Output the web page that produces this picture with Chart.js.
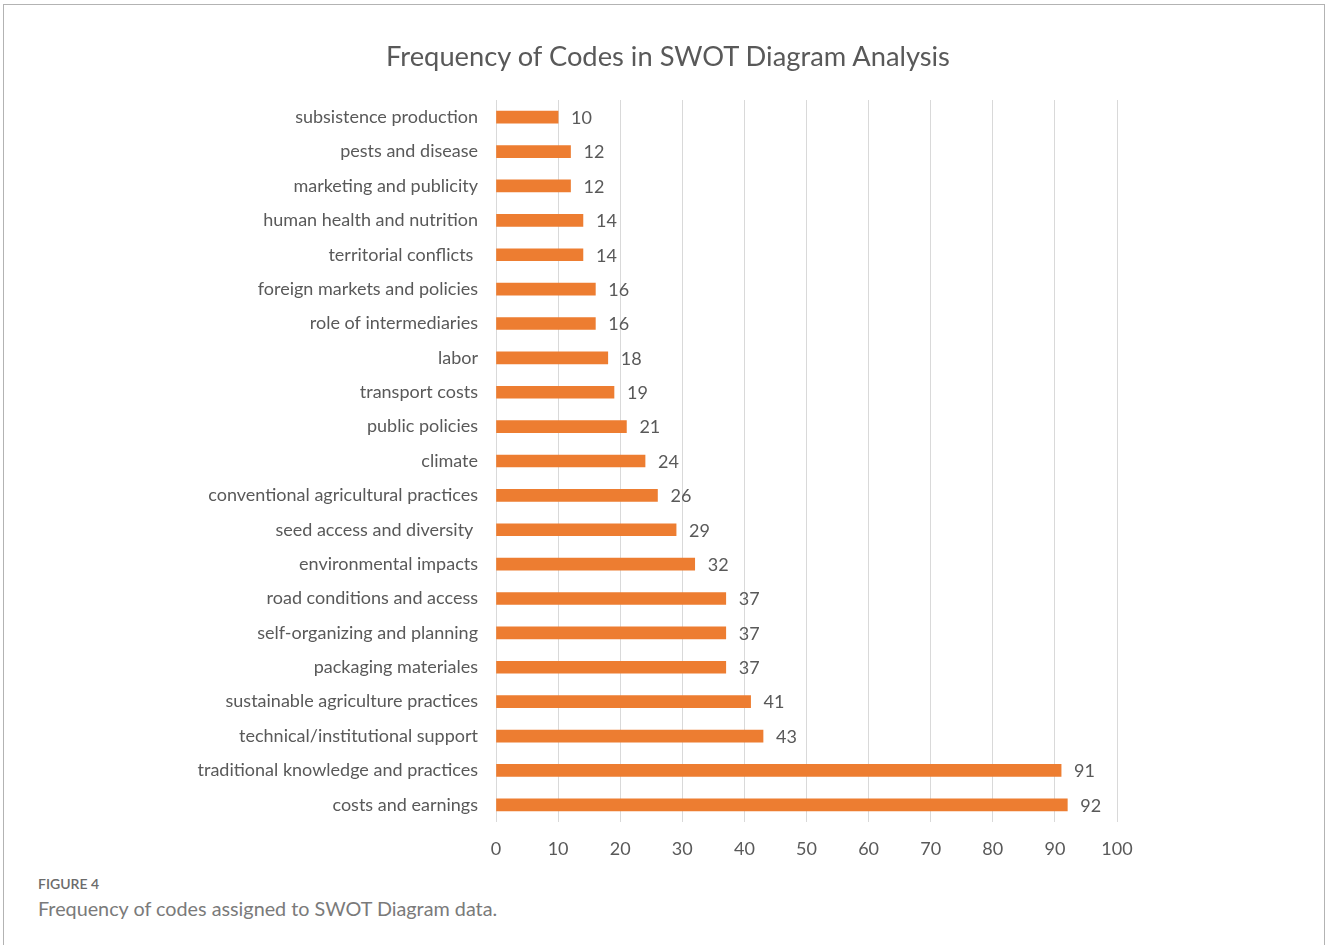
<!DOCTYPE html>
<html><head><meta charset="utf-8">
<script src="https://cdn.jsdelivr.net/npm/chart.js@4"></script>
<style>
html,body{margin:0;padding:0;background:#fff;width:1327px;height:945px;overflow:hidden;}
#frame{position:absolute;left:3px;top:4px;width:1322px;height:960px;border:1.5px solid #b3b3b3;box-sizing:border-box;}
#wrap{position:absolute;left:0;top:0;width:1327px;height:870px;}
#title{position:absolute;left:0;top:38px;width:1336px;text-align:center;font-family:Lato,sans-serif;font-size:27.3px;color:#595959;line-height:36px;}
#fig{position:absolute;left:38px;top:875px;font-family:Lato,"Open Sans",sans-serif;font-size:14px;color:#6b6b6b;font-weight:600;}
#cap{position:absolute;left:38px;top:896px;font-family:Lato,"Open Sans",sans-serif;font-size:19.8px;color:#7a7a7a;}
</style></head>
<body>
<div id="frame"></div>
<div id="wrap"><canvas id="c"></canvas></div>
<div id="title"></div>
<div id="fig">FIGURE 4</div>
<div id="cap">Frequency of codes assigned to SWOT Diagram data.</div>
<script>
const categories = [
 "subsistence production","pests and disease","marketing and publicity","human health and nutrition",
 "territorial conflicts ","foreign markets and policies","role of intermediaries","labor","transport costs",
 "public policies","climate","conventional agricultural practices","seed access and diversity ",
 "environmental impacts","road conditions and access","self-organizing and planning","packaging materiales",
 "sustainable agriculture practices","technical/institutional support","traditional knowledge and practices",
 "costs and earnings"];
const frequencies = [10,12,12,14,14,16,16,18,19,21,24,26,29,32,37,37,37,41,43,91,92];
const xTicks = [0,10,20,30,40,50,60,70,80,90,100];
const chartTitle = "Frequency of Codes in SWOT Diagram Analysis";
document.getElementById('title').textContent = chartTitle;

const FONT = "Lato";
const TXT = "#595959";
const FS = 18;

const valueLabels = {
  id:'valueLabels',
  afterDatasetsDraw(chart){
    const ctx = chart.ctx;
    const meta = chart.getDatasetMeta(0);
    ctx.save();
    ctx.font = FS + "px " + FONT;
    ctx.fillStyle = TXT;
    ctx.textAlign = 'left';
    ctx.textBaseline = 'middle';
    meta.data.forEach((bar,i)=>{
      ctx.fillText(String(frequencies[i]), bar.x + 13, bar.y + 1);
    });
    ctx.restore();
  }
};

new Chart(document.getElementById('c'), {
  type:'bar',
  data:{labels:categories, datasets:[{data:frequencies, backgroundColor:'#ED7D31', barThickness:12}]},
  options:{
    indexAxis:'y',
    responsive:true, maintainAspectRatio:false, animation:false,
    layout:{padding:{left:0,right:210,top:100,bottom:0}},
    plugins:{legend:{display:false}, tooltip:{enabled:false}, title:{display:false}},
    scales:{
      x:{min:0,max:100,
         afterBuildTicks(s){ s.ticks = xTicks.map(v=>({value:v})); },
         afterFit(s){ s.height = 48; },
         grid:{color:'#d9d9d9', drawTicks:false, lineWidth:1},
         border:{display:false},
         ticks:{color:TXT, font:{family:FONT,size:FS}, padding:16}},
      y:{afterFit(s){ s.width = 496; },
         grid:{display:false, drawTicks:false},
         border:{display:false},
         ticks:{color:TXT, font:{family:FONT,size:FS}, padding:18, autoSkip:false}}
    }
  },
  plugins:[valueLabels]
});
</script>
</body></html>
